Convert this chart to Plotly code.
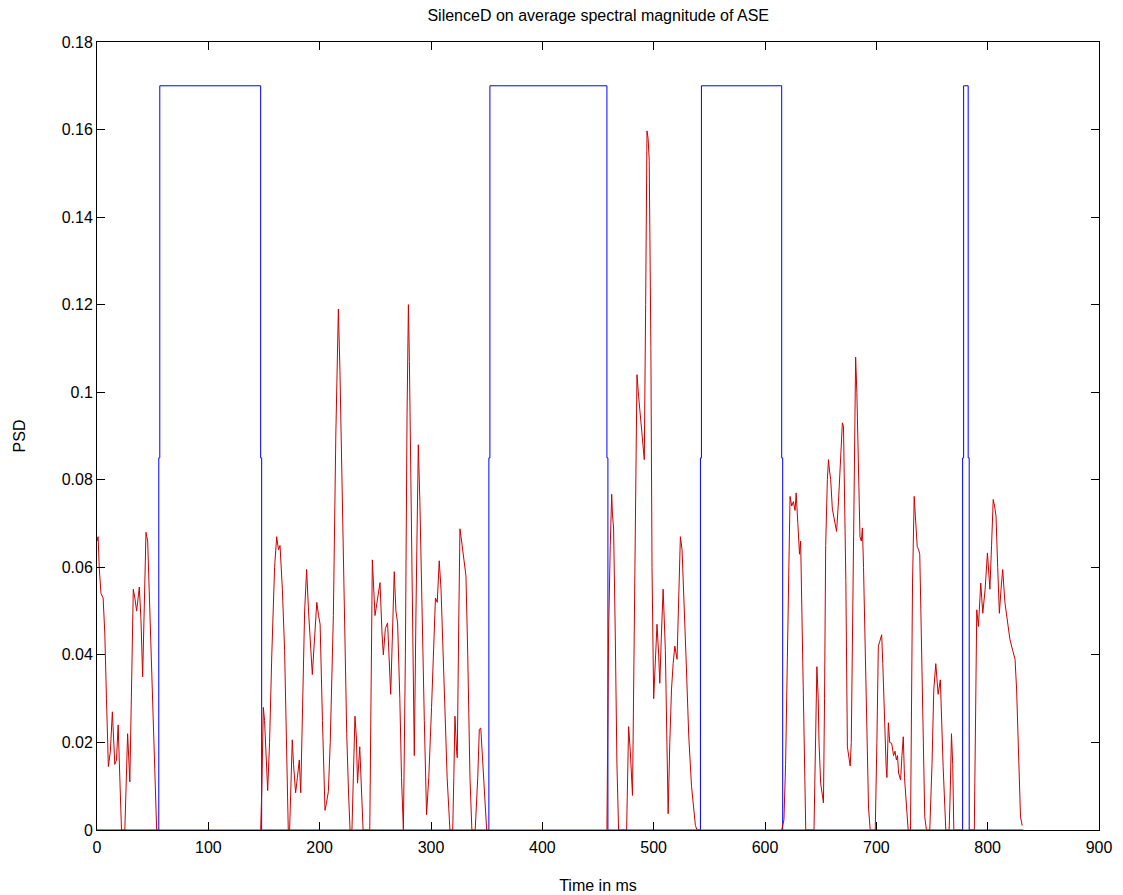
import plotly.graph_objects as go

# ---- data ----
title_text = "SilenceD on average spectral magnitude of ASE"

# silence detector (blue): onset/offset times in ms and levels
silence_on = [55.5, 352.0, 542.0, 777.5]
silence_off = [147.0, 458.0, 615.0, 782.5]
silence_level = 0.17
silence_mid = 0.085
signal_end = 832.0

# average spectral magnitude (red): time in ms and PSD values
red_t = [0, 1, 2, 3.6, 5.5, 7, 8.5, 10.2, 12, 13.8, 16, 17.5, 19, 20.5, 22, 25, 27.5, 29.5, 31, 32.6,
         34, 35.6, 38, 39.5, 41, 42.5, 44, 45.5, 47.6, 50, 52, 53.6, 147, 148, 149.4, 150.5, 153.3, 155,
         157, 159.5, 161.4, 163, 164.4, 166.5, 168.5, 170, 171.8, 173, 175.4, 176.5, 178.4, 180, 181.7,
         183, 185, 186.5, 188.3, 190, 193.4, 195.5, 197.4, 199, 200.4, 202.5, 204.8, 206, 207.8, 209.5,
         212.3, 214.5, 216.8, 218.2, 220.4, 222.5, 224.3, 226, 227.3, 229, 231.7, 233, 234, 236, 237.5,
         239, 245, 246.5, 247.3, 249.7, 252, 254.2, 256, 257.2, 259, 261, 263.8, 265.5, 267, 268.5, 270,
         272, 273.5, 275.2, 277, 278.5, 279.7, 280.6, 282, 283.5, 285, 286.5, 287.5, 288.6, 290, 291,
         292.4, 294, 296, 298, 300.5, 302, 304, 305.6, 307.4, 309, 311, 312.5, 314.5, 317, 319.5, 320.5,
         321.5, 323, 323.6, 324.8, 326, 328, 330, 331.4, 333, 335, 336.7, 339.7, 342, 343.4, 344.7,
         346.4, 348.5, 350, 458, 458.7, 459.5, 461, 462.3, 463, 464, 465.5, 467, 468.5, 475.7, 477.5,
         479, 481, 483, 485, 486.5, 488, 490, 491.6, 492.8, 494, 495, 496, 497.5, 498.5, 500, 501.5, 503,
         504.5, 505.5, 507, 508.5, 510.5, 511.8, 513, 514.5, 516, 517.5, 519, 521, 522.5, 524, 525.5,
         527, 529, 531.5, 534, 537.5, 539, 615, 617, 618.5, 620, 621.5, 622.5, 624, 625.5, 627, 628,
         629.5, 631, 632, 634, 635.5, 636.6, 644, 645.5, 646.6, 647.8, 648.5, 650, 651, 652.5, 653.5,
         654.5, 656, 657, 658, 659, 660.5, 662, 663.6, 664.3, 666, 668, 669.5, 670.5, 671.5, 672.6, 674,
         675.5, 676.5, 677.5, 679, 680, 681.4, 682.5, 684, 685.3, 686.5, 687.5, 688.5, 690, 691.5, 693,
         694.5, 699, 700.5, 701.8, 703, 704.8, 705.8, 707, 708.8, 709.5, 710.8, 712, 713.8, 715.5, 716.8,
         718, 719, 720, 721.8, 723, 724.2, 725.3, 726.5, 728.6, 730.7, 731.8, 732.5, 734, 735.3, 736.7,
         738, 739, 740, 741.5, 743.5, 745, 748, 750, 751.6, 753.4, 754.5, 755.5, 757.5, 758.5, 760,
         762.4, 765.4, 766.5, 767.5, 768.6, 769.6, 788, 789, 790.2, 791.7, 793.8, 795.6, 797.7, 799.8,
         801, 802, 803.5, 805, 806.2, 807.5, 809, 810.5, 812, 813.5, 815.5, 817.5, 820, 822.5, 824.6,
         826, 826.7, 828, 829.5, 831]
red_v = [0.066, 0.067, 0.060, 0.054, 0.053, 0.045, 0.030, 0.0145, 0.018, 0.027, 0.015, 0.016, 0.024,
         0.014, 0.0, 0.0, 0.022, 0.011, 0.035, 0.055, 0.053, 0.050, 0.0555, 0.048, 0.035, 0.055, 0.068,
         0.066, 0.050, 0.030, 0.012, 0.0, 0.0, 0.009, 0.028, 0.025, 0.009, 0.020, 0.040, 0.060, 0.067,
         0.064, 0.065, 0.055, 0.041, 0.020, 0.0, 0.0, 0.0206, 0.015, 0.0085, 0.012, 0.016, 0.0085, 0.030,
         0.050, 0.0595, 0.050, 0.0355, 0.045, 0.052, 0.049, 0.047, 0.025, 0.0045, 0.006, 0.0088, 0.020,
         0.049, 0.090, 0.119, 0.105, 0.0755, 0.045, 0.022, 0.008, 0.0, 0.0, 0.026, 0.021, 0.0107, 0.019,
         0.008, 0.0, 0.0, 0.040, 0.0617, 0.049, 0.053, 0.0565, 0.045, 0.040, 0.046, 0.0473, 0.031, 0.048,
         0.059, 0.050, 0.0473, 0.030, 0.012, 0.0, 0.040, 0.095, 0.120, 0.107, 0.075, 0.040, 0.017, 0.050,
         0.075, 0.088, 0.075, 0.060, 0.0425, 0.025, 0.0035, 0.012, 0.028, 0.040, 0.053, 0.052, 0.0615,
         0.055, 0.040, 0.0295, 0.012, 0.0, 0.0, 0.012, 0.026, 0.018, 0.0165, 0.045, 0.0688, 0.065, 0.061,
         0.058, 0.040, 0.012, 0.0, 0.0, 0.012, 0.023, 0.0233, 0.015, 0.005, 0.0, 0.0, 0.020, 0.045, 0.065,
         0.0767, 0.072, 0.069, 0.045, 0.015, 0.0, 0.0, 0.0236, 0.018, 0.0079, 0.050, 0.104, 0.099, 0.095,
         0.088, 0.0846, 0.120, 0.1597, 0.158, 0.153, 0.110, 0.060, 0.030, 0.040, 0.047, 0.040, 0.0335,
         0.045, 0.055, 0.041, 0.020, 0.0037, 0.020, 0.032, 0.038, 0.042, 0.039, 0.055, 0.067, 0.064, 0.055,
         0.040, 0.0215, 0.010, 0.001, 0.0, 0.0, 0.0023, 0.015, 0.042, 0.065, 0.0762, 0.074, 0.075, 0.073,
         0.077, 0.070, 0.063, 0.066, 0.038, 0.015, 0.0, 0.0, 0.020, 0.0373, 0.030, 0.020, 0.0107, 0.009,
         0.0062, 0.030, 0.065, 0.080, 0.0846, 0.082, 0.080, 0.0733, 0.071, 0.069, 0.0682, 0.075, 0.0854,
         0.093, 0.0922, 0.075, 0.057, 0.019, 0.016, 0.0146, 0.020, 0.050, 0.0762, 0.108, 0.100, 0.085,
         0.067, 0.066, 0.069, 0.060, 0.040, 0.020, 0.005, 0.0, 0.0, 0.020, 0.042, 0.043, 0.0446, 0.038,
         0.026, 0.0145, 0.012, 0.0245, 0.020, 0.0198, 0.017, 0.018, 0.016, 0.017, 0.013, 0.0114, 0.017,
         0.0213, 0.012, 0.0069, 0.0, 0.0, 0.030, 0.0564, 0.0762, 0.070, 0.0648, 0.064, 0.063, 0.050, 0.032,
         0.003, 0.0, 0.0, 0.015, 0.032, 0.038, 0.034, 0.031, 0.0343, 0.025, 0.0145, 0.0, 0.0, 0.010, 0.022,
         0.015, 0.0, 0.0, 0.025, 0.0503, 0.0465, 0.0564, 0.0495, 0.055, 0.0633, 0.058, 0.055, 0.065,
         0.0755, 0.074, 0.0717, 0.060, 0.0495, 0.055, 0.0595, 0.052, 0.048, 0.0435, 0.041, 0.039, 0.032,
         0.026, 0.012, 0.003, 0.001]

x_ticks = [0, 100, 200, 300, 400, 500, 600, 700, 800, 900]
x_tick_labels = ["0", "100", "200", "300", "400", "500", "600", "700", "800", "900"]
y_ticks = [0, 0.02, 0.04, 0.06, 0.08, 0.10, 0.12, 0.14, 0.16, 0.18]
y_tick_labels = ["0", "0.02", "0.04", "0.06", "0.08", "0.1", "0.12", "0.14", "0.16", "0.18"]

# build the stair-shaped silence curve from the on/off times
step_dx = 0.9
blue_x, blue_y = [0.0], [0.0]
for a, b in zip(silence_on, silence_off):
    blue_x += [a, a + step_dx, b, b + step_dx]
    blue_y += [silence_mid, silence_level, silence_mid, 0.0]
blue_x.append(signal_end)
blue_y.append(0.0)

font_family = "Liberation Sans, Arial, Helvetica, sans-serif"

fig = go.Figure()
fig.add_trace(go.Scatter(x=blue_x, y=blue_y, mode="lines", line=dict(color="#0000ff", width=1, shape="hv"),
                         showlegend=False, hoverinfo="skip"))
fig.add_trace(go.Scatter(x=red_t, y=red_v, mode="lines", line=dict(color="#cc0000", width=1),
                         showlegend=False))

axis_common = dict(showline=True, linecolor="black", linewidth=1, mirror="allticks", ticks="inside",
                   ticklen=8, tickcolor="black", showgrid=False, zeroline=False, automargin=False,
                   tickfont=dict(family=font_family, size=16, color="black"))

fig.update_layout(
    width=1123, height=895,
    margin=dict(l=97, r=24, t=42, b=65),
    paper_bgcolor="white", plot_bgcolor="white",
    font=dict(family=font_family, size=16, color="black"),
    title=dict(text=title_text, x=0.5327, xanchor="center", y=0.983, yanchor="middle",
               font=dict(family=font_family, size=16, color="black")),
    xaxis=dict(range=[0, 900], tickvals=x_ticks, ticktext=x_tick_labels, ticklabelstandoff=3,
               title=dict(text="Time in ms", standoff=24, font=dict(family=font_family, size=16)),
               **axis_common),
    yaxis=dict(range=[0, 0.18], tickvals=y_ticks, ticktext=y_tick_labels,
               title=dict(text="PSD", standoff=32, font=dict(family=font_family, size=16)),
               **axis_common),
)

fig.write_html("out.html", config={"displayModeBar": False},
               post_script="document.body.style.margin='0';")
